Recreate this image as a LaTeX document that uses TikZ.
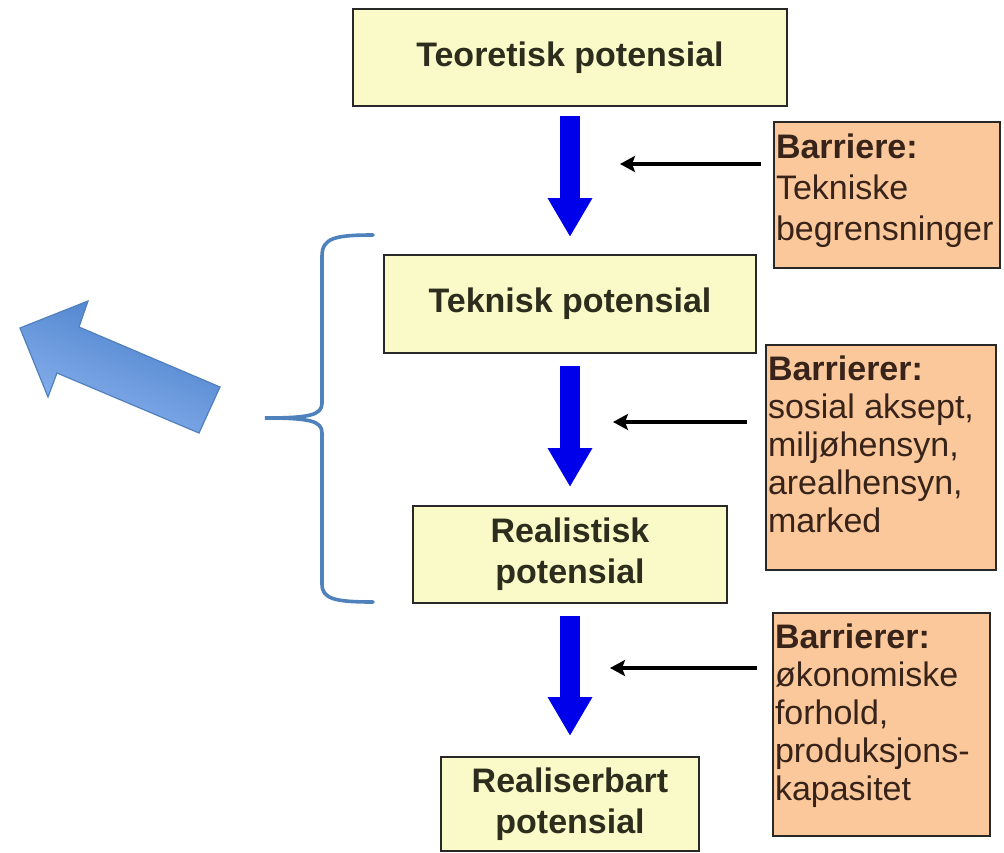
\documentclass[tikz,border=0pt]{standalone}
\usepackage{fontspec}
\setmainfont{Liberation Sans}
\usetikzlibrary{arrows.meta,calc}
\definecolor{boxyellow}{RGB}{250,250,200}
\definecolor{peach}{RGB}{250,200,155}
\definecolor{maintext}{RGB}{45,45,30}
\definecolor{barrtext}{RGB}{55,35,25}
\definecolor{flowblue}{RGB}{0,0,235}
\definecolor{bracecol}{RGB}{79,129,189}
\definecolor{arrowlight}{RGB}{141,180,240}
\definecolor{arrowdark}{RGB}{70,125,200}
\definecolor{boxborder}{RGB}{40,40,40}
\begin{document}
\begin{tikzpicture}[x=1pt,y=-1pt,
  potbox/.style={draw=boxborder, line width=2pt, fill=boxyellow, inner sep=0pt, align=center,
    font=\fontsize{34}{41}\selectfont\bfseries, text=maintext},
  barrbox/.style={draw=boxborder, line width=2pt, fill=peach, inner xsep=2pt, inner ysep=0pt,
    font=\fontsize{34}{38}\selectfont, text=barrtext},
  flow/.style={draw=flowblue, line width=20pt, -{Triangle[length=39pt,width=42pt]}},
  push/.style={draw=black, line width=4.2pt, -{Stealth[length=15pt,width=16pt,inset=3pt]}},
  brace/.style={draw=bracecol, line width=3.6pt, line cap=round}
]
\path[use as bounding box] (0,0) rectangle (1004,852);

% main boxes
\node[potbox, minimum width=434pt, minimum height=97pt] (teo) at (570,57.5) {Teoretisk potensial};
\node[potbox, minimum width=372pt, minimum height=98pt] (tek) at (570,304) {Teknisk potensial};
\node[potbox, minimum width=314pt, minimum height=97pt] (rea) at (570,554.5) {Realistisk\\potensial};
\node[potbox, minimum width=258pt, minimum height=94pt] (rsb) at (570,804) {Realiserbart\\potensial};

% barrier boxes
\node[barrbox] (b1) at (887,195) {\parbox[c][146pt][t]{222pt}{\raggedright\hyphenpenalty=10000\fontsize{34}{41}\selectfont
  \rule{0pt}{36pt}\textbf{Barriere:}\\Tekniske\\begrensninger}};
\node[barrbox] (b2) at (881,457.5) {\parbox[c][225pt][t]{226pt}{\raggedright\hyphenpenalty=10000
  \rule{0pt}{35pt}\textbf{Barrierer:}\\sosial aksept,\\miljøhensyn,\\arealhensyn,\\marked}};
\node[barrbox] (b3) at (881.5,724.5) {\parbox[c][223pt][t]{213pt}{\raggedright\hyphenpenalty=10000
  \rule{0pt}{35pt}\textbf{Barrierer:}\\økonomiske\\forhold,\\produksjons-\\kapasitet}};

% blue flow arrows
\draw[flow] ([yshift=-9pt]teo.south) -- ([yshift=17pt]tek.north);
\draw[flow] ([yshift=-12pt]tek.south) -- ([yshift=18pt]rea.north);
\draw[flow] ([yshift=-12pt]rea.south) -- ([yshift=20pt]rsb.north);

% black barrier arrows
\coordinate (h1) at (620,164);
\coordinate (h2) at (613,422);
\coordinate (h3) at (610,668);
\draw[push] ($(b1.west |- h1)+(-12,0)$) -- (h1);
\draw[push] ($(b2.west |- h2)+(-18,0)$) -- (h2);
\draw[push] ($(b3.west |- h3)+(-15,0)$) -- (h3);

% curly bracket
\draw[brace] (373,235) .. controls (335,235) and (322,238) .. (322,256) -- (322,403)
  .. controls (322,415) and (310,418) .. (265,418)
  .. controls (310,418) and (322,421) .. (322,433) -- (322,584)
  .. controls (322,599) and (335,602) .. (373,602);

% big blue arrow
\shadedraw[top color=arrowdark, bottom color=arrowlight, shading angle=-23, draw=bracecol, line width=1.2pt, line join=miter]
  (20,328) -- (88,301) -- (79,327) -- (220,387) -- (199,433) -- (57,373) -- (48,397) -- cycle;
\end{tikzpicture}
\end{document}
